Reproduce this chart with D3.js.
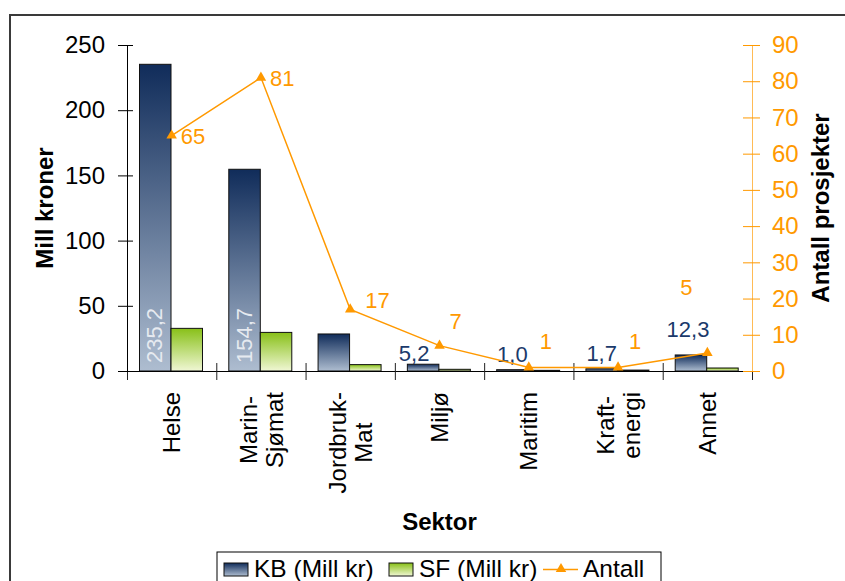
<!DOCTYPE html>
<html>
<head>
<meta charset="utf-8">
<script src="https://cdn.jsdelivr.net/npm/d3@7"></script>
<style>
  body { margin: 0; background: #fff; }
  svg { display: block; font-family: "Liberation Sans", Arial, sans-serif; }
</style>
</head>
<body>
<svg id="chart" width="845" height="581"></svg>
<script>
// data
const sectors = [["Helse"], ["Marin-", "Sjømat"], ["Jordbruk-", "Mat"], ["Miljø"], ["Maritim"], ["Kraft-", "energi"], ["Annet"]];
const kbValues = [235.2, 154.7, 28.4, 5.2, 1.0, 1.7, 12.3];
const sfValues = [32.7, 29.6, 4.9, 1.3, 0.5, 0.7, 2.3];
const antall = [65, 81, 17, 7, 1, 1, 5];
const leftTicks = [0, 50, 100, 150, 200, 250];
const rightTicks = [0, 10, 20, 30, 40, 50, 60, 70, 80, 90];
const kbHiddenLabels = [2];

// label nudges (the original labels were moved by hand)
const antallLabelNudge = [[9, 1], [9, 0], [15, -9], [10, -25], [11, -26], [11, -26], [-27, -66]];
const kbLabelNudge = [[0, 0], [0, 0], [0, 0], [-9, -3], [0, -8], [0, -8], [-3, -18]];

const plot = { left: 127, right: 752, top: 45, bottom: 371 };
const orange = "#ff9900";
const fmt = v => d3.format(".1f")(v).replace(".", ",");

const svg = d3.select("#chart");

svg.append("rect")
  .attr("x", 10).attr("y", 15)
  .attr("width", 850).attr("height", 620)
  .attr("fill", "#fff")
  .attr("stroke", "#3a3a3a")
  .attr("stroke-width", 2);

const defs = svg.append("defs");
function gradient(id, top, bottom) {
  const g = defs.append("linearGradient").attr("id", id)
    .attr("x1", 0).attr("y1", 0).attr("x2", 0).attr("y2", 1);
  g.append("stop").attr("offset", "0%").attr("stop-color", top);
  g.append("stop").attr("offset", "100%").attr("stop-color", bottom);
}
gradient("kbGrad", "#102c5a", "#aebdd0");
gradient("sfGrad", "#88c018", "#f0f7d4");

const x = d3.scaleBand().domain(d3.range(sectors.length)).range([plot.left, plot.right]);
const xs = d3.scaleBand().domain(["kb", "sf"]).range([12.5, 75.5]);
const y = d3.scaleLinear().domain([0, 250]).range([plot.bottom, plot.top]);
const y2 = d3.scaleLinear().domain([0, 90]).range([plot.bottom, plot.top]);
const xb = d3.scaleLinear().domain([0, sectors.length]).range([plot.left, plot.right]);

const rows = sectors.map((s, i) => ({ i, kb: kbValues[i], sf: sfValues[i], n: antall[i] }));

// bars
const groups = svg.append("g").selectAll("g")
  .data(rows).join("g")
  .attr("transform", d => `translate(${x(d.i)},0)`);

groups.append("rect")
  .attr("x", xs("kb")).attr("width", xs.bandwidth())
  .attr("y", d => y(d.kb)).attr("height", d => y(0) - y(d.kb))
  .attr("fill", "url(#kbGrad)").attr("stroke", "#111").attr("stroke-width", 1);

groups.append("rect")
  .attr("x", xs("sf")).attr("width", xs.bandwidth())
  .attr("y", d => y(d.sf)).attr("height", d => y(0) - y(d.sf))
  .attr("fill", "url(#sfGrad)").attr("stroke", "#111").attr("stroke-width", 1);

// KB labels
groups.filter(d => !kbHiddenLabels.includes(d.i)).each(function (d) {
  const g = d3.select(this);
  const cx = xs("kb") + xs.bandwidth() / 2;
  if (d.kb > 100) {
    g.append("text")
      .attr("transform", `translate(${cx + 7},${y(0) - 8}) rotate(-90)`)
      .attr("font-size", 22).attr("fill", "#e6eaf0")
      .text(fmt(d.kb));
  } else {
    const [dx, dy] = kbLabelNudge[d.i];
    g.append("text")
      .attr("x", cx + dx).attr("y", y(d.kb) + dy)
      .attr("text-anchor", "middle")
      .attr("font-size", 22).attr("fill", "#1b3a6b")
      .text(fmt(d.kb));
  }
});

// x axis
const xAxis = svg.append("g")
  .attr("transform", `translate(0,${plot.bottom})`)
  .call(d3.axisBottom(xb).tickValues(d3.range(sectors.length + 1)).tickFormat("").tickSize(9).tickSizeOuter(0));
xAxis.select(".domain").attr("stroke", "#000");
xAxis.selectAll(".tick line").attr("y1", -8).attr("stroke", "#222");

// left axis
const yAxis = svg.append("g")
  .attr("transform", `translate(${plot.left},0)`)
  .call(d3.axisLeft(y).tickValues(leftTicks).tickSize(9).tickPadding(13).tickSizeOuter(0));
yAxis.select(".domain").attr("stroke", "#000");
yAxis.selectAll(".tick line").attr("x1", 6).attr("stroke", "#000");
yAxis.selectAll(".tick text")
  .attr("font-size", 24).attr("font-family", "Liberation Sans, Arial, sans-serif").attr("fill", "#000");

// right axis
const y2Axis = svg.append("g")
  .attr("transform", `translate(${plot.right},0)`)
  .call(d3.axisRight(y2).tickValues(rightTicks).tickSize(8).tickPadding(12).tickSizeOuter(0));
y2Axis.select(".domain").attr("stroke", "#ffbb55");
y2Axis.selectAll(".tick line").attr("x1", -9).attr("stroke", orange);
y2Axis.selectAll(".tick text")
  .attr("font-size", 24).attr("font-family", "Liberation Sans, Arial, sans-serif").attr("fill", orange);

// Antall line
const cx = i => x(i) + x.bandwidth() / 2;
svg.append("path")
  .datum(antall)
  .attr("fill", "none").attr("stroke", orange).attr("stroke-width", 1.5)
  .attr("d", d3.line().x((d, i) => cx(i)).y(d => y2(d)));

svg.append("g").selectAll("path")
  .data(antall).join("path")
  .attr("transform", (d, i) => `translate(${cx(i)},${y2(d)})`)
  .attr("d", d3.symbol(d3.symbolTriangle).size(48))
  .attr("fill", orange);

svg.append("g").selectAll("text")
  .data(antall).join("text")
  .attr("x", (d, i) => cx(i) + antallLabelNudge[i][0])
  .attr("y", (d, i) => y2(d) + antallLabelNudge[i][1])
  .attr("dy", "0.36em")
  .attr("font-size", 22).attr("fill", orange)
  .text(d => d);

// category labels
const catG = svg.append("g").selectAll("g")
  .data(sectors).join("g");
catG.each(function (lines, i) {
  const g = d3.select(this);
  const texts = g.selectAll("text").data(lines).join("text")
    .attr("font-size", 24).attr("fill", "#000").attr("text-anchor", "middle")
    .text(t => t);
  const maxLen = d3.max(texts.nodes(), n => n.getComputedTextLength());
  const step = 26;
  texts.attr("transform", (t, j) =>
    `translate(${cx(i) + (j - (lines.length - 1) / 2) * step},${392 + maxLen / 2}) rotate(-90)`)
    .attr("dy", "0.36em");
});

// axis titles
svg.append("text")
  .attr("transform", `translate(53,${(plot.top + plot.bottom) / 2}) rotate(-90)`)
  .attr("text-anchor", "middle").attr("font-size", 24).attr("font-weight", "bold")
  .text("Mill kroner");

svg.append("text")
  .attr("transform", `translate(829,${(plot.top + plot.bottom) / 2}) rotate(-90)`)
  .attr("text-anchor", "middle").attr("font-size", 24).attr("font-weight", "bold")
  .text("Antall prosjekter");

svg.append("text")
  .attr("x", (plot.left + plot.right) / 2).attr("y", 530)
  .attr("text-anchor", "middle").attr("font-size", 24).attr("font-weight", "bold")
  .text("Sektor");

// legend
const legend = svg.append("g");
legend.append("rect")
  .attr("x", 217).attr("y", 552).attr("width", 444).attr("height", 60)
  .attr("fill", "#fff").attr("stroke", "#000").attr("stroke-width", 1);

const legendItems = [
  { label: "KB (Mill kr)", kind: "bar", fill: "url(#kbGrad)", x: 224 },
  { label: "SF (Mill kr)", kind: "bar", fill: "url(#sfGrad)", x: 389 },
  { label: "Antall", kind: "line", x: 543 }
];
legendItems.forEach(item => {
  if (item.kind === "bar") {
    legend.append("rect")
      .attr("x", item.x).attr("y", 563).attr("width", 24).attr("height", 13)
      .attr("fill", item.fill).attr("stroke", "#111");
    legend.append("text")
      .attr("x", item.x + 30).attr("y", 577)
      .attr("font-size", 24.5).text(item.label);
  } else {
    legend.append("line")
      .attr("x1", item.x).attr("x2", item.x + 35).attr("y1", 569.5).attr("y2", 569.5)
      .attr("stroke", orange).attr("stroke-width", 1.5);
    legend.append("path")
      .attr("transform", `translate(${item.x + 18},569)`)
      .attr("d", d3.symbol(d3.symbolTriangle).size(48))
      .attr("fill", orange);
    legend.append("text")
      .attr("x", item.x + 40).attr("y", 577)
      .attr("font-size", 24.5).text(item.label);
  }
});
</script>
</body>
</html>
